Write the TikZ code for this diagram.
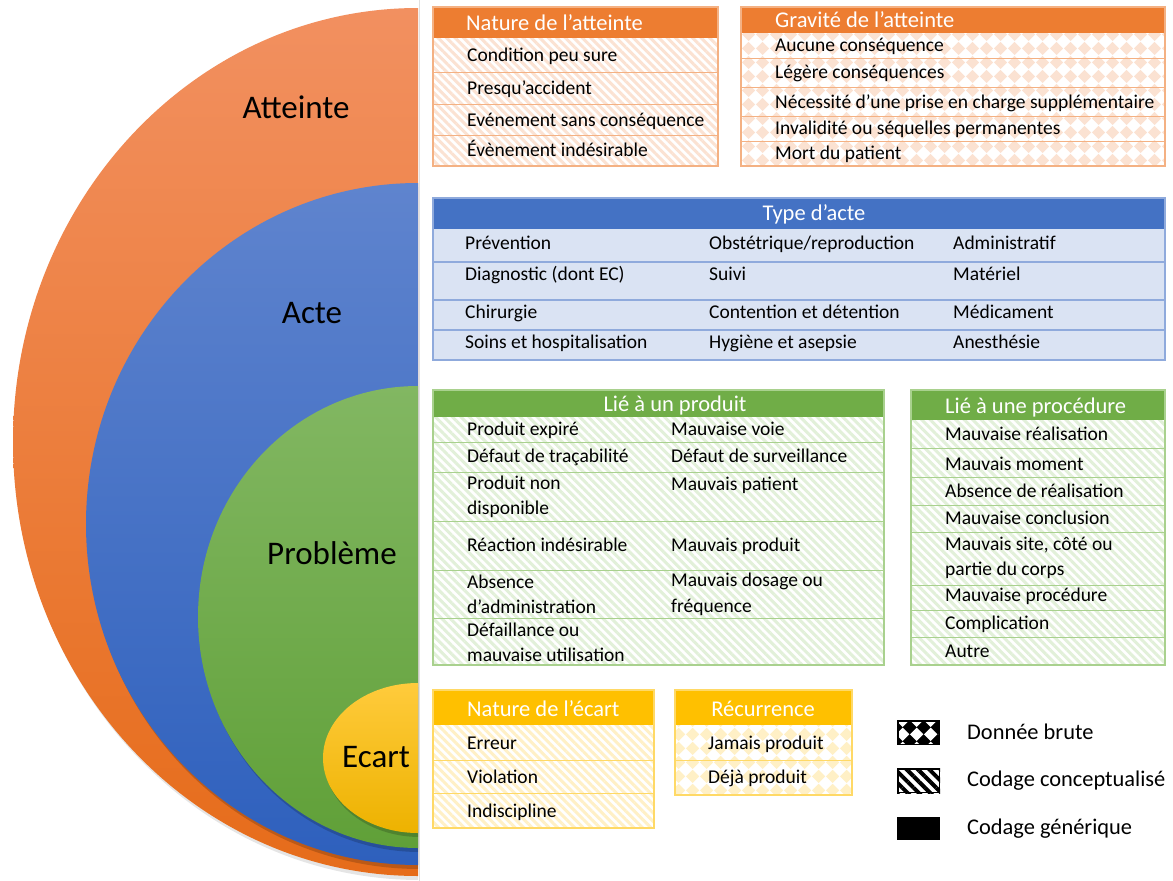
\documentclass[tikz,border=0pt]{standalone}
\usepackage{fontspec}
\setmainfont{Carlito}
\usetikzlibrary{patterns,patterns.meta}
\pgfdeclarepatternformonly{diamondsx}{\pgfqpoint{0pt}{0pt}}{\pgfqpoint{14pt}{14pt}}{\pgfqpoint{14pt}{14pt}}{%
  \pgfpathmoveto{\pgfqpoint{7pt}{0pt}}\pgfpathlineto{\pgfqpoint{14pt}{7pt}}%
  \pgfpathlineto{\pgfqpoint{7pt}{14pt}}\pgfpathlineto{\pgfqpoint{0pt}{7pt}}\pgfpathclose\pgfusepath{fill}}
\definecolor{orH}{HTML}{ED7D31}
\definecolor{orB}{HTML}{F4B183}
\definecolor{orS}{HTML}{FBE2D2}
\definecolor{blH}{HTML}{4472C4}
\definecolor{blB}{HTML}{8FAADC}
\definecolor{blF}{HTML}{DAE3F3}
\definecolor{grH}{HTML}{70AD47}
\definecolor{grB}{HTML}{A9D18E}
\definecolor{grS}{HTML}{E2F0D9}
\definecolor{yeH}{HTML}{FFC000}
\definecolor{yeB}{HTML}{FFD966}
\definecolor{yeS}{HTML}{FFF0C6}
\definecolor{orT}{HTML}{F29060}
\definecolor{orD}{HTML}{E66C1A}
\definecolor{blT}{HTML}{5F84CE}
\definecolor{blD}{HTML}{2E60BD}
\definecolor{grT}{HTML}{82B762}
\definecolor{grD}{HTML}{60A038}
\definecolor{yeT}{HTML}{FFCB3C}
\definecolor{yeD}{HTML}{EDB200}
\tikzset{
  cellbase/.style={anchor=west,inner sep=0pt,font=\fontsize{19.5}{25.5}\selectfont,align=left},
  cell/.style={cellbase,text height=15pt,text depth=2pt},
  cell2/.style={cellbase},
  hdr/.style={inner sep=0pt,text=white,font=\fontsize{22.5}{26}\selectfont,text height=15.5pt,text depth=1.5pt},
  lab/.style={inner sep=0pt,font=\fontsize{33}{36}\selectfont,text height=23pt,text depth=2pt},
  leg/.style={anchor=west,inner sep=0pt,font=\fontsize{22.4}{26}\selectfont,text height=15.5pt,text depth=2pt},
  stripes/.style={pattern={Lines[angle=-45,distance=6pt,line width=3pt]},pattern color=#1},
  diams/.style={pattern=diamondsx,pattern color=#1},
}
\begin{document}
\begin{tikzpicture}[x=1pt,y=-1pt]
\useasboundingbox (0,0) rectangle (1173,881);
\fill[white] (0,0) rectangle (1173,881);
% ---------- nested half ellipses ----------
\begin{scope}
\clip (0,0) rectangle (418,881);
\fill[black,opacity=0.10] (420,446) ellipse [x radius=405, y radius=434];
\shade[top color=orT, bottom color=orD] (418,442) ellipse [x radius=405, y radius=434];
\fill[black,opacity=0.18] (420,528) ellipse [x radius=332, y radius=341];
\shade[top color=blT, bottom color=blD] (418,524) ellipse [x radius=332, y radius=341];
\fill[black,opacity=0.18] (420,621) ellipse [x radius=220, y radius=231];
\shade[top color=grT, bottom color=grD] (418,617) ellipse [x radius=220, y radius=231];
\fill[black,opacity=0.18] (420,762) ellipse [x radius=95, y radius=75];
\shade[top color=yeT, bottom color=yeD] (418,758) ellipse [x radius=95, y radius=75];
\end{scope}
\draw[black!12,line width=1.5pt] (419.5,0) -- (419.5,881);
\node[lab] (atteinte) at (296,108) {Atteinte};
\node[lab] (acte) at (312,313) {Acte};
\node[lab] (probleme) at (332,554) {Problème};
\node[lab] (ecart) at (376,757) {Ecart};
% ---------- Nature de l'atteinte ----------
\fill[stripes=orS] (433,38) rectangle (718,166);
\draw[orB,line width=1pt] (433,72) -- (718,72) (433,104) -- (718,104) (433,135) -- (718,135);
\fill[orH] (433,7) rectangle (718,38);
\draw[orB,line width=1.2pt] (433,7) rectangle (718,166);
\node[hdr,anchor=west] (nat) at (466,23) {Nature de l’atteinte};
\node[cell] (n1) at (467,55) {Condition peu sure};
\node[cell] (n2) at (467,88) {Presqu’accident};
\node[cell] (n3) at (467,120) {Evénement sans conséquence};
\node[cell] (n4) at (467,150) {Évènement indésirable};
% ---------- Gravite ----------
\fill[diams=orS] (741,33) rectangle (1165,166);
\draw[orB,line width=1pt] (741,58) -- (1165,58) (741,87) -- (1165,87) (741,116) -- (1165,116) (741,141) -- (1165,141);
\fill[orH] (741,7) rectangle (1165,33);
\draw[orB,line width=1.2pt] (741,7) rectangle (1165,166);
\node[hdr,anchor=west] (grav) at (775,20) {Gravité de l’atteinte};
\node[cell] (g1) at (775,45) {Aucune conséquence};
\node[cell] (g2) at (775,72) {Légère conséquences};
\node[cell] (g3) at (775,102) {Nécessité d’une prise en charge supplémentaire};
\node[cell] (g4) at (775,128) {Invalidité ou séquelles permanentes};
\node[cell] (g5) at (775,153) {Mort du patient};
% ---------- Type d'acte ----------
\fill[blF] (433,229) rectangle (1165,360);
\draw[blB,line width=1.5pt] (433,262) -- (1165,262) (433,300) -- (1165,300) (433,330) -- (1165,330);
\fill[blH] (433,198) rectangle (1165,229);
\draw[blB,line width=1.2pt] (433,198) rectangle (1165,360);
\node[hdr] (type) at (814,213) {Type d’acte};
\node[cell] (t11) at (465,243) {Prévention};
\node[cell] (t12) at (709,243) {Obstétrique/reproduction};
\node[cell] (t13) at (953,243) {Administratif};
\node[cell] (t21) at (465,274) {Diagnostic (dont EC)};
\node[cell] (t22) at (709,274) {Suivi};
\node[cell] (t23) at (953,274) {Matériel};
\node[cell] (t31) at (465,312) {Chirurgie};
\node[cell] (t32) at (709,312) {Contention et détention};
\node[cell] (t33) at (953,312) {Médicament};
\node[cell] (t41) at (465,342) {Soins et hospitalisation};
\node[cell] (t42) at (709,342) {Hygiène et asepsie};
\node[cell] (t43) at (953,342) {Anesthésie};
% ---------- Lie a un produit ----------
\fill[stripes=grS] (433,417) rectangle (884,665);
\draw[grB,line width=1pt] (433,442) -- (884,442) (433,472) -- (884,472) (433,521) -- (884,521) (433,570) -- (884,570) (433,618) -- (884,618);
\fill[grH] (433,390) rectangle (884,417);
\draw[grB,line width=1.2pt] (433,390) rectangle (884,665);
\node[hdr] (prod) at (675,404) {Lié à un produit};
\node[cell] (p11) at (467,429) {Produit expiré};
\node[cell] (p12) at (671,429) {Mauvaise voie};
\node[cell] (p21) at (467,456) {Défaut de traçabilité};
\node[cell] (p22) at (671,456) {Défaut de surveillance};
\node[cell2] (p31) at (467,497) {Produit non\\disponible};
\node[cell] (p32) at (671,484) {Mauvais patient};
\node[cell] (p41) at (467,545) {Réaction indésirable};
\node[cell] (p42) at (671,545) {Mauvais produit};
\node[cell2] (p51) at (467,594.5) {Absence\\d’administration};
\node[cell2] (p52) at (671,594.5) {Mauvais dosage ou\\fréquence};
\node[cell2] (p61) at (467,642.5) {Défaillance ou\\mauvaise utilisation};
% ---------- Lie a une procedure ----------
\fill[stripes=grS] (911,420) rectangle (1165,665);
\draw[grB,line width=1pt] (911,448) -- (1165,448) (911,477) -- (1165,477) (911,505) -- (1165,505) (911,532) -- (1165,532) (911,585) -- (1165,585) (911,610) -- (1165,610) (911,637) -- (1165,637);
\fill[grH] (911,390) rectangle (1165,420);
\draw[grB,line width=1.2pt] (911,390) rectangle (1165,665);
\node[hdr,anchor=west] (proc) at (945,406) {Lié à une procédure};
\node[cell] (r1) at (945,434) {Mauvaise réalisation};
\node[cell] (r2) at (945,464) {Mauvais moment};
\node[cell] (r3) at (945,491) {Absence de réalisation};
\node[cell] (r4) at (945,518) {Mauvaise conclusion};
\node[cell2] (r5) at (945,558) {Mauvais site, côté ou\\partie du corps};
\node[cell] (r6) at (945,595) {Mauvaise procédure};
\node[cell] (r7) at (945,623) {Complication};
\node[cell] (r8) at (945,651) {Autre};
% ---------- Nature de l'ecart ----------
\fill[stripes=yeS] (433,725) rectangle (654,828);
\draw[yeB,line width=1pt] (433,760) -- (654,760) (433,793) -- (654,793);
\fill[yeH] (433,690) rectangle (654,725);
\draw[yeB,line width=1.2pt] (433,690) rectangle (654,828);
\node[hdr,anchor=west] (natec) at (467,709) {Nature de l’écart};
\node[cell] (e1) at (467,743) {Erreur};
\node[cell] (e2) at (467,777) {Violation};
\node[cell] (e3) at (467,811) {Indiscipline};
% ---------- Recurrence ----------
\fill[diams=yeS] (675,725) rectangle (852,795);
\draw[yeB,line width=1pt] (675,760) -- (852,760);
\fill[yeH] (675,690) rectangle (852,725);
\draw[yeB,line width=1.2pt] (675,690) rectangle (852,795);
\node[hdr] (recu) at (763,709) {Récurrence};
\node[cell] (c1) at (708,743) {Jamais produit};
\node[cell] (c2) at (708,777) {Déjà produit};
% ---------- Legend ----------
\fill[black] (897,720) rectangle (940,745);
\fill[diams=white] (899,722) rectangle (938,743);
\draw[black,line width=1.5pt] (897.75,768.75) rectangle (939.25,792.25);
\fill[pattern={Lines[angle=-45,distance=8pt,line width=4pt]},pattern color=black] (897,768) rectangle (940,793);
\fill[black] (897,817) rectangle (940,840);
\node[leg] (l1) at (967,733) {Donnée brute};
\node[leg] (l2) at (967,780) {Codage conceptualisé};
\node[leg] (l3) at (967,828) {Codage générique};
\end{tikzpicture}
\end{document}
